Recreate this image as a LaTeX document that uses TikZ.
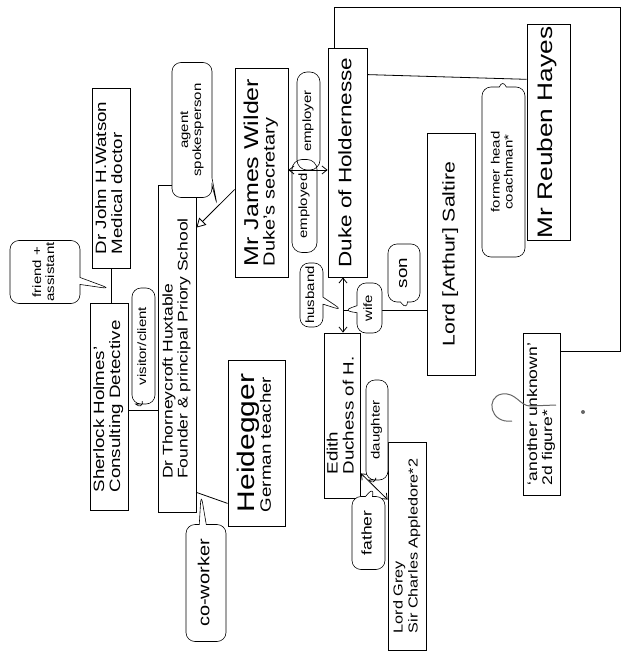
\documentclass[tikz,border=0pt]{standalone}
\usepackage{fontspec}
\setmainfont[FakeStretch=1.25]{Liberation Sans}
\usepackage{graphicx}
\usetikzlibrary{positioning,shapes.callouts,arrows.meta}

\newcommand{\sidetext}[1]{\rotatebox{90}{\begin{tabular}{@{}l@{}}#1\end{tabular}}}
\newcommand{\bubtext}[1]{\rotatebox{90}{\begin{tabular}{@{}c@{}}#1\end{tabular}}}

\begin{document}
\begin{tikzpicture}[x=1pt, y=-1pt,
    box/.style={draw, line width=0.8pt, inner sep=2pt, font=\fontsize{15}{16}\selectfont},
    bubble/.style={rectangle callout, draw, fill=white, line width=0.6pt, rounded corners=9pt,
        callout pointer width=7pt, inner sep=1pt, font=\fontsize{12}{13}\selectfont},
    tag/.style={draw, line width=0.6pt, rounded corners=10pt, inner sep=1pt, font=\fontsize{12}{13}\selectfont},
    link/.style={line width=0.8pt},
    both/.style={link, {Straight Barb[length=5pt,width=8pt]}-{Straight Barb[length=5pt,width=8pt]}}]

    \useasboundingbox (0,0) rectangle (626,661);

    % people
    \node[box, minimum width=38pt, minimum height=207pt] (holmes) at (109,406.5) {\sidetext{Sherlock Holmes'\\Consulting Detective}};
    \node[box, minimum width=38pt, minimum height=180pt] (watson) at (111,178) {\sidetext{Dr John H.Watson\\Medical doctor}};
    \node[box, minimum width=38pt, minimum height=327pt, font=\fontsize{14}{15}\selectfont] (huxtable) at (177,348.5) {\sidetext{Dr Thorneycroft Huxtable\\Founder \& principal Priory School}};
    \node[box, minimum width=57pt, minimum height=166pt] (heidegger) at (256.5,443) {\sidetext{{\fontsize{24}{26}\selectfont Heidegger}\\German teacher}};
    \node[box, minimum width=53pt, minimum height=209pt] (wilder) at (261.5,172.5) {\sidetext{{\fontsize{20}{22}\selectfont Mr James Wilder}\\{\fontsize{16}{17}\selectfont Duke's secretary}}};
    \node[box, minimum width=39pt, minimum height=229pt, font=\fontsize{18}{19}\selectfont] (duke) at (347.5,162.5) {\sidetext{Duke of Holdernesse}};
    \node[box, minimum width=43pt, minimum height=215pt, font=\fontsize{21}{22}\selectfont] (hayes) at (548.5,132.5) {\sidetext{Mr Reuben Hayes}};
    \node[box, minimum width=48pt, minimum height=242pt, font=\fontsize{17}{18}\selectfont] (saltire) at (451,254) {\sidetext{Lord [Arthur] Saltire}};
    \node[box, minimum width=35pt, minimum height=165pt] (edith) at (342.5,415.5) {\sidetext{Edith\\Duchess of H.}};
    \node[box, minimum width=38pt, minimum height=208pt, font=\fontsize{13}{15}\selectfont] (grey) at (407,546) {\sidetext{Lord Grey\\Sir Charles Appledore*2}};
    \node[box, minimum width=37pt, minimum height=162pt, font=\fontsize{14}{15}\selectfont] (unknown) at (541.5,414) {\sidetext{`another unknown'\\2d figure*}};

    % question mark over the unknown figure
    \draw[black!60, line width=1pt] (512,421) .. controls (490,424) and (485,397) .. (502,394)
        .. controls (516,392) and (520,406) .. (530,406) -- (556,405);
    \fill[black!60] (583,412) circle (2pt);

    % links
    \coordinate (corner) at (620,7);
    \coordinate (hx) at ([yshift=-3.5pt]holmes.east);
    \coordinate (wd) at ([yshift=2.5pt]wilder.east);
    \coordinate (de) at ([xshift=-4.5pt]duke.south);
    \draw[link] (watson.south) -- coordinate[pos=0.6] (wh) (watson.south |- holmes.north);
    \draw[link] (hx) -- coordinate (hh) (hx -| huxtable.west);
    \draw[link] ([yshift=20pt]huxtable.south east) -- coordinate[pos=0.15] (hd) ([yshift=23pt]heidegger.south west);
    \draw[link, -{Triangle[open,length=9pt,width=10pt]}] ([yshift=-17pt]wilder.west) -- coordinate[pos=0.45] (wx) ([yshift=-43pt]huxtable.north east);
    \draw[both] (wd) -- (wd -| duke.west);
    \draw[link] ([yshift=-27pt]duke.north east) -- coordinate[pos=0.85] (dh) ([yshift=-55pt]hayes.north west);
    \draw[link] ([xshift=7pt]duke.north west) |- (corner) |- ([yshift=-19pt]unknown.north east);
    \draw[both] (de) -- coordinate[pos=0.6] (jn) (de |- edith.north);
    \draw[link] (jn) -- coordinate[pos=0.77] (js) (jn -| saltire.west);
    \draw[both] ([yshift=25pt]edith.south east) -- coordinate (eg) ([yshift=-58pt]grey.north west);

    % speech bubbles
    \node[bubble, minimum width=70pt, minimum height=63pt, callout absolute pointer={(wh)}] (friend) at (45,272) {\bubtext{friend +\\assistant}};
    \node[bubble, minimum width=23pt, minimum height=116pt, callout absolute pointer={(hh)}] (visitor) at (143.5,346) {\bubtext{visitor/client}};
    \node[bubble, minimum width=40pt, minimum height=135pt, callout absolute pointer={(wx)}] (agent) at (192,130) {\bubtext{agent\\spokesperson}};
    \node[tag, minimum width=23pt, minimum height=98pt] (employer) at (308.5,121) {\bubtext{employer}};
    \node[tag, minimum width=25pt, minimum height=93pt] (employed) at (304.5,206) {\bubtext{employed}};
    \node[bubble, minimum width=23pt, minimum height=64pt, callout absolute pointer={(jn)}] (husband) at (311.5,295) {\bubtext{husband}};
    \node[bubble, minimum width=25pt, minimum height=50pt, callout absolute pointer={(jn)}] (wife) at (369.5,308) {\bubtext{wife}};
    \node[bubble, minimum width=32pt, minimum height=58pt, callout absolute pointer={(js)}, font=\fontsize{15}{16}\selectfont] (son) at (404,273) {\bubtext{son}};
    \node[bubble, minimum width=22pt, minimum height=100pt, callout absolute pointer={(eg)}] (daughter) at (377,430) {\bubtext{daughter}};
    \node[bubble, minimum width=33pt, minimum height=73pt, callout absolute pointer={(eg)}, font=\fontsize{14}{15}\selectfont] (father) at (368.5,533) {\bubtext{father}};
    \node[bubble, minimum width=40pt, minimum height=117pt, callout absolute pointer={(hd)}, font=\fontsize{16}{17}\selectfont] (coworker) at (206,583) {\bubtext{co-worker}};
    \node[bubble, minimum width=43pt, minimum height=170pt, callout absolute pointer={(dh)}] (coachman) at (503.5,172) {\bubtext{former head\\coachman*}};
\end{tikzpicture}
\end{document}
